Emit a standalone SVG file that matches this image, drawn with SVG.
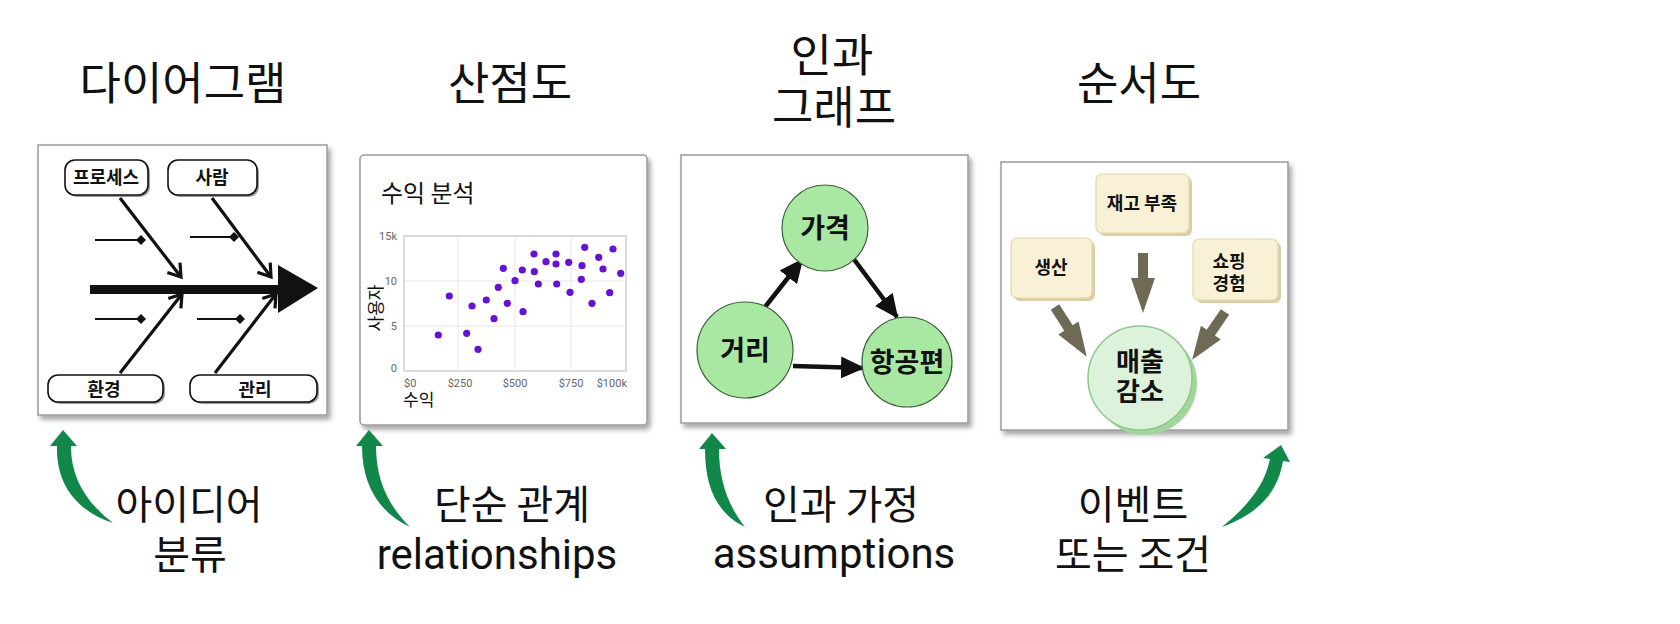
<svg xmlns="http://www.w3.org/2000/svg" width="1680" height="624" viewBox="0 0 1680 624">
<style>
.kr{font-family:"Noto Sans CJK KR","Noto Sans",sans-serif;fill:#111}
.lat{font-family:Roboto,"Noto Sans",sans-serif;fill:#111}
.title{font-size:45px}
.lbl{font-size:40px}
.latl{font-size:42px}
.panel{fill:#fff;stroke:#9a9a9a;stroke-width:1.5}
.fbox{fill:#fff;stroke:#111;stroke-width:1.6}
.fbt{font-size:18px;font-weight:700;text-anchor:middle}
.bone{stroke:#111;stroke-width:3.2;fill:none}
.tick{stroke:#111;stroke-width:2;fill:none}
.ax{font-family:Roboto,"Noto Sans",sans-serif;font-size:11px;fill:#666}
.grid{stroke:#e6e6e6;stroke-width:1}
.dot{fill:#6512d6}
.cnode{fill:#a8e8a2;stroke:#3d5e3a;stroke-width:1.2}
.ct{font-size:27px;font-weight:700;text-anchor:middle}
.carr{stroke:#111;stroke-width:4.5;fill:none}
.cream{fill:#f8f1d5;stroke:#e3d8ad;stroke-width:1.2}
.creamsh{fill:#d9cfa6}
.ft{font-size:18px;font-weight:700;text-anchor:middle}
.farr{fill:#6e6a56}
.garr{fill:#11884a}
</style>
<defs>
<filter id="sh" x="-5%" y="-5%" width="115%" height="115%">
<feDropShadow dx="3" dy="4" stdDeviation="2.5" flood-color="#000" flood-opacity="0.35"/>
</filter>
<marker id="open" viewBox="0 0 20 20" refX="14" refY="10" markerWidth="20" markerHeight="20" markerUnits="userSpaceOnUse" orient="auto">
<path d="M2,2 L14,10 L2,18" fill="none" stroke="#111" stroke-width="3.2"/>
</marker>
<marker id="tri" viewBox="0 0 24 22" refX="22" refY="11" markerWidth="24" markerHeight="22" markerUnits="userSpaceOnUse" orient="auto">
<path d="M0,0 L24,11 L0,22 Z" fill="#111"/>
</marker>
</defs>

<!-- Titles -->
<g id="titles">
<text class="kr title" x="183" y="100" text-anchor="middle">다이어그램</text>
<text class="kr title" x="510" y="100" text-anchor="middle">산점도</text>
<text class="kr title" x="832" y="72" text-anchor="middle">인과</text>
<text class="kr title" x="834" y="124" text-anchor="middle">그래프</text>
<text class="kr title" x="1139" y="100" text-anchor="middle">순서도</text>
</g>

<!-- Panel 1: fishbone -->
<g id="panel-fishbone">
<rect class="panel" x="38" y="145" width="289" height="270" filter="url(#sh)"/>
<g id="fb-main">
<rect x="90" y="285" width="190" height="9" fill="#111"/>
<path d="M278,265 L318,288 L278,313 Z" fill="#111"/>
</g>
<g id="fb-connectors">
<line class="bone" x1="120" y1="198" x2="181" y2="277" marker-end="url(#open)"/>
<line class="bone" x1="212" y1="198" x2="271" y2="277" marker-end="url(#open)"/>
<line class="bone" x1="120" y1="373" x2="182" y2="294" marker-end="url(#open)"/>
<line class="bone" x1="215" y1="373" x2="276" y2="294" marker-end="url(#open)"/>
<line class="tick" x1="95" y1="240" x2="140" y2="240"/>
<path d="M141,235 L146,240 L141,245 L136,240 Z" fill="#111"/>
<line class="tick" x1="190" y1="237" x2="232" y2="237"/>
<path d="M234,232 L239,237 L234,242 L229,237 Z" fill="#111"/>
<line class="tick" x1="95" y1="319" x2="139" y2="319"/>
<path d="M141,314 L146,319 L141,324 L136,319 Z" fill="#111"/>
<line class="tick" x1="197" y1="319" x2="238" y2="319"/>
<path d="M240,314 L245,319 L240,324 L235,319 Z" fill="#111"/>
</g>
<g id="fb-process">
<rect x="67" y="162" width="83" height="35" rx="10" fill="#999"/>
<rect class="fbox" x="65" y="160" width="83" height="35" rx="10"/>
<text class="kr fbt" x="106" y="184">프로세스</text>
</g>
<g id="fb-people">
<rect x="170" y="162" width="89" height="35" rx="10" fill="#999"/>
<rect class="fbox" x="168" y="160" width="89" height="35" rx="10"/>
<text class="kr fbt" x="212" y="184">사람</text>
</g>
<g id="fb-env">
<rect x="50" y="377" width="115" height="27" rx="10" fill="#999"/>
<rect class="fbox" x="48" y="375" width="115" height="27" rx="10"/>
<text class="kr fbt" x="104" y="396">환경</text>
</g>
<g id="fb-mgmt">
<rect x="192" y="377" width="127" height="27" rx="10" fill="#999"/>
<rect class="fbox" x="190" y="375" width="127" height="27" rx="10"/>
<text class="kr fbt" x="255" y="396">관리</text>
</g>
</g>

<!-- Panel 2: scatter -->
<g id="panel-scatter">
<rect class="panel" x="360" y="155" width="287" height="270" rx="4" filter="url(#sh)"/>
<text class="kr" x="381" y="202" font-size="24">수익 분석</text>
<line class="grid" x1="458" y1="236" x2="458" y2="371"/>
<line class="grid" x1="515" y1="236" x2="515" y2="371"/>
<line class="grid" x1="571" y1="236" x2="571" y2="371"/>
<line class="grid" x1="404" y1="281" x2="626" y2="281"/>
<line class="grid" x1="404" y1="326" x2="626" y2="326"/>
<rect x="404" y="236" width="222" height="135" fill="none" stroke="#d0d0d0" stroke-width="1.5"/>
<g class="ax">
<text x="397" y="240" text-anchor="end">15k</text>
<text x="397" y="285" text-anchor="end">10</text>
<text x="397" y="330" text-anchor="end">5</text>
<text x="397" y="372" text-anchor="end">0</text>
<text x="404" y="387">$0</text>
<text x="460" y="387" text-anchor="middle">$250</text>
<text x="515" y="387" text-anchor="middle">$500</text>
<text x="571" y="387" text-anchor="middle">$750</text>
<text x="627" y="387" text-anchor="end">$100k</text>
</g>
<text class="kr" transform="translate(382,308) rotate(-90)" font-size="17" text-anchor="middle">사용자</text>
<text class="kr" x="403" y="406" font-size="17">수익</text>
<g id="dots">
<circle class="dot" cx="438.3" cy="335" r="3.6"/>
<circle class="dot" cx="449.3" cy="296" r="3.6"/>
<circle class="dot" cx="466.7" cy="333.3" r="3.6"/>
<circle class="dot" cx="472" cy="306" r="3.6"/>
<circle class="dot" cx="478" cy="349.3" r="3.6"/>
<circle class="dot" cx="486.3" cy="300" r="3.6"/>
<circle class="dot" cx="494" cy="318.7" r="3.6"/>
<circle class="dot" cx="498.3" cy="287.3" r="3.6"/>
<circle class="dot" cx="503.3" cy="268.3" r="3.6"/>
<circle class="dot" cx="507.3" cy="303.3" r="3.6"/>
<circle class="dot" cx="515" cy="280.7" r="3.6"/>
<circle class="dot" cx="522.3" cy="270" r="3.6"/>
<circle class="dot" cx="523" cy="311.7" r="3.6"/>
<circle class="dot" cx="534" cy="254" r="3.6"/>
<circle class="dot" cx="534.3" cy="271.7" r="3.6"/>
<circle class="dot" cx="538.3" cy="284" r="3.6"/>
<circle class="dot" cx="546" cy="261.7" r="3.6"/>
<circle class="dot" cx="556" cy="254" r="3.6"/>
<circle class="dot" cx="556" cy="264" r="3.6"/>
<circle class="dot" cx="556.7" cy="284" r="3.6"/>
<circle class="dot" cx="568.7" cy="262.3" r="3.6"/>
<circle class="dot" cx="570" cy="292.3" r="3.6"/>
<circle class="dot" cx="581.3" cy="279.3" r="3.6"/>
<circle class="dot" cx="582" cy="265.7" r="3.6"/>
<circle class="dot" cx="584.7" cy="247.3" r="3.6"/>
<circle class="dot" cx="592" cy="303.3" r="3.6"/>
<circle class="dot" cx="598.7" cy="257.3" r="3.6"/>
<circle class="dot" cx="603" cy="269" r="3.6"/>
<circle class="dot" cx="609.7" cy="292.7" r="3.6"/>
<circle class="dot" cx="613" cy="249" r="3.6"/>
<circle class="dot" cx="620.7" cy="273.3" r="3.6"/>
</g>
</g>

<!-- Panel 3: causal graph -->
<g id="panel-causal">
<rect class="panel" x="681" y="155" width="287" height="268" filter="url(#sh)"/>
<g id="causal-connectors">
<line class="carr" x1="765" y1="307" x2="802" y2="260" marker-end="url(#tri)"/>
<line class="carr" x1="853" y1="258" x2="897" y2="317" marker-end="url(#tri)"/>
<line class="carr" x1="793" y1="366" x2="863" y2="368" marker-end="url(#tri)"/>
</g>
<g id="node-price">
<circle class="cnode" cx="825" cy="228" r="43"/>
<text class="kr ct" x="825" y="238">가격</text>
</g>
<g id="node-distance">
<circle class="cnode" cx="745" cy="350" r="48"/>
<text class="kr ct" x="745" y="360">거리</text>
</g>
<g id="node-flights">
<circle class="cnode" cx="907" cy="362" r="45"/>
<text class="kr ct" x="907" y="372">항공편</text>
</g>
</g>

<!-- Panel 4: flow -->
<g id="panel-flow">
<rect class="panel" x="1001" y="162" width="287" height="268" filter="url(#sh)"/>
<g id="flow-connectors">
<polygon class="farr" points="0,-5 25,-5 25,-12 59,0 25,12 25,5 0,5" transform="translate(1055,307) rotate(57.4)"/>
<polygon class="farr" points="0,-5 25,-5 25,-12 60,0 25,12 25,5 0,5" transform="translate(1143,253) rotate(90)"/>
<polygon class="farr" points="0,-5 25,-5 25,-12 58,0 25,12 25,5 0,5" transform="translate(1225,312) rotate(124.5)"/>
</g>
<g id="flow-stock">
<rect class="creamsh" x="1099" y="177" width="93" height="59" rx="6"/>
<rect class="cream" x="1096" y="174" width="93" height="59" rx="6"/>
<text class="kr ft" x="1142" y="210">재고 부족</text>
</g>
<g id="flow-production">
<rect class="creamsh" x="1014" y="241" width="81" height="60" rx="6"/>
<rect class="cream" x="1011" y="238" width="81" height="60" rx="6"/>
<text class="kr ft" x="1051" y="274">생산</text>
</g>
<g id="flow-shopping">
<rect class="creamsh" x="1196" y="242" width="85" height="61" rx="6"/>
<rect class="cream" x="1193" y="239" width="85" height="61" rx="6"/>
<text class="kr ft" x="1229" y="268">쇼핑</text>
<text class="kr ft" x="1229" y="290">경험</text>
</g>
<g id="flow-sales">
<circle cx="1145" cy="383" r="52" fill="#a3d69e"/>
<circle cx="1140" cy="378" r="52" fill="#ddf2da" stroke="#8fc88b" stroke-width="1.5"/>
<text class="kr" x="1140" y="371" font-size="26" font-weight="700" text-anchor="middle">매출</text>
<text class="kr" x="1140" y="401" font-size="26" font-weight="700" text-anchor="middle">감소</text>
</g>
</g>

<!-- Green curved arrows -->
<g id="green-arrows">
<path class="garr" d="M50,446 L63,430 L77,446 L71,446 C71,478 86,502 113,523 C74,510 56,482 57,446 Z"/>
<path class="garr" d="M356,446 L369,430 L383,446 L376,446 C376,480 388,505 410,527 C378,512 362,484 362,446 Z"/>
<path class="garr" d="M699,449 L712,433 L726,449 L719,449 C719,482 729,507 745,527 C716,513 705,486 705,449 Z"/>
<path class="garr" d="M1263,458 L1281,445 L1290,462 L1283,461 C1278,490 1262,512 1222,527 C1245,508 1264,488 1270,459 Z"/>
</g>

<!-- Bottom labels -->
<g id="labels">
<text class="kr lbl" x="189" y="519" text-anchor="middle">아이디어</text>
<text class="kr lbl" x="190" y="569" text-anchor="middle">분류</text>
<text class="kr lbl" x="512" y="519" text-anchor="middle">단순 관계</text>
<text class="lat latl" x="497" y="569" text-anchor="middle">relationships</text>
<text class="kr lbl" x="841" y="519" text-anchor="middle">인과 가정</text>
<text class="lat latl" x="834" y="568" text-anchor="middle">assumptions</text>
<text class="kr lbl" x="1133" y="519" text-anchor="middle">이벤트</text>
<text class="kr lbl" x="1133" y="569" text-anchor="middle">또는 조건</text>
</g>
</svg>
